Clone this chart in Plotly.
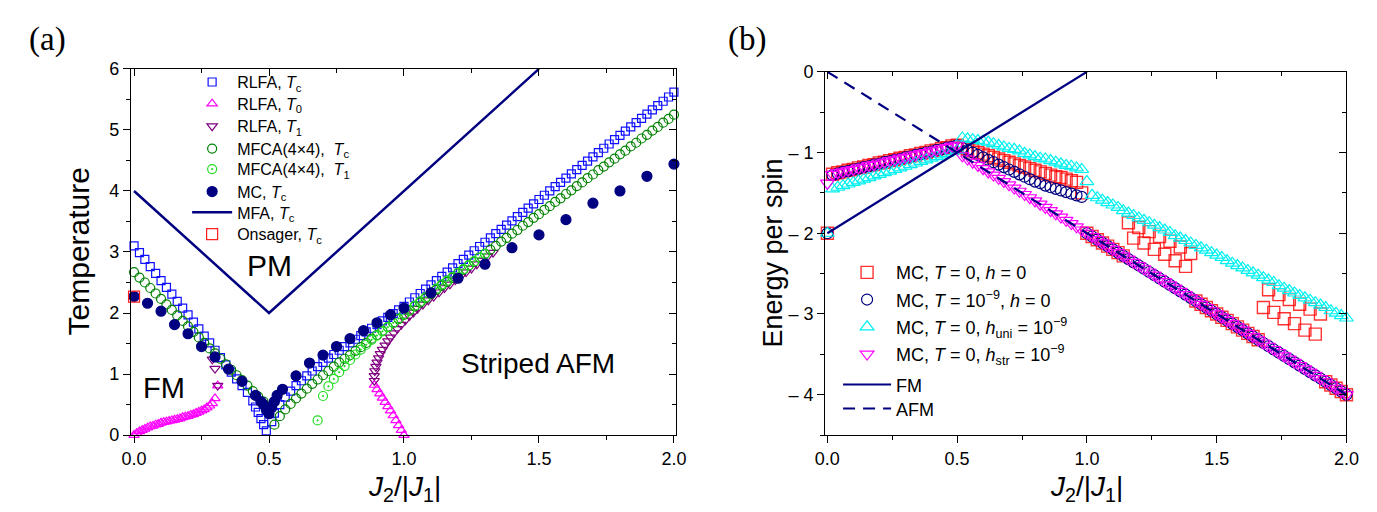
import numpy as np
import plotly.graph_objects as go

# ---------------- Panel (a) data ----------------
rlfa_tc_left_x = [0.00,0.02,0.04,0.06,0.08,0.10,0.12,0.14,0.16,0.18,0.20,0.22,0.24,0.26,0.28,0.30,0.32,0.34,0.36,0.38,0.40,0.42,0.44,0.45,0.46,0.47,0.48,0.49]
rlfa_tc_left_T = [3.10,2.99,2.88,2.76,2.65,2.53,2.42,2.31,2.19,2.08,1.97,1.85,1.74,1.62,1.51,1.39,1.27,1.15,1.03,0.92,0.81,0.70,0.56,0.46,0.37,0.27,0.17,0.07]
rlfa_tc_right_x = [0.51] + list(np.round(np.arange(0.52, 2.001, 0.02), 2))
rlfa_tc_right_T = [0.22,0.36,0.50,0.62,0.72,0.81,0.89,0.97,1.05,1.12,1.19,1.26,1.32,1.39,1.45,1.51,1.57,1.63,1.69,1.75,1.81,1.87,1.93,1.99,2.05,2.11,
                   2.18,2.25,2.32,2.39,2.46,2.53,2.60,2.67,2.74,2.81,2.88,2.95,3.02,3.09,3.16,3.23,3.30,3.37,3.44,3.51,3.58,3.65,3.72,3.79,
                   3.86,3.93,4.00,4.07,4.14,4.21,4.28,4.35,4.42,4.49,4.56,4.63,4.70,4.77,4.84,4.91,4.98,5.05,5.12,5.19,5.26,5.33,5.40,5.47,5.54,5.62]

rlfa_t0_left_x = list(np.round(np.arange(0.0, 0.3101, 0.01), 2))
rlfa_t0_left_T = [0.00,0.03,0.06,0.08,0.10,0.12,0.14,0.15,0.17,0.18,0.20,0.21,0.22,0.23,0.24,0.25,0.26,0.27,0.29,0.30,0.31,0.33,0.34,0.36,0.38,0.40,0.42,0.45,0.48,0.52,0.60,0.81]
rlfa_t0_right_x = list(np.round(np.arange(0.89, 1.0001, 0.01), 2))
rlfa_t0_right_T = [0.82,0.75,0.68,0.61,0.54,0.47,0.40,0.32,0.24,0.16,0.08,0.00]

rlfa_t1_left_x = [0.29, 0.30, 0.31]
rlfa_t1_left_T = [1.24, 1.09, 0.81]
rlfa_t1_right_x = [0.890,0.890,0.892,0.896,0.900,0.906,0.912,0.920,0.930,0.940,0.950,0.962,0.975,0.990,1.005,1.020,1.035,1.050,1.070,1.090,1.110,1.130,1.150,1.170,1.190,1.210,1.230,1.250,1.270,1.290,1.310,1.330]
rlfa_t1_right_T = [0.89,0.97,1.05,1.12,1.19,1.26,1.33,1.40,1.47,1.54,1.60,1.67,1.74,1.81,1.88,1.95,2.01,2.07,2.14,2.21,2.27,2.34,2.41,2.47,2.54,2.60,2.67,2.73,2.80,2.86,2.93,2.99]

mfca_tc_left_x = list(np.round(np.arange(0.0, 0.4801, 0.02), 2))
mfca_tc_left_T = [2.67,2.58,2.50,2.41,2.32,2.23,2.14,2.05,1.96,1.87,1.78,1.69,1.60,1.51,1.42,1.34,1.25,1.16,1.07,0.98,0.90,0.81,0.72,0.63,0.55]
mfca_tc_right_x = list(np.round(np.arange(0.52, 2.001, 0.02), 2))
mfca_tc_right_T = [0.17,0.31,0.42,0.51,0.60,0.68,0.76,0.84,0.91,0.98,1.05,1.12,1.19,1.25,1.31,1.38,1.44,1.51,1.58,1.64,1.71,1.77,1.84,1.90,1.97,
                   2.04,2.11,2.17,2.24,2.31,2.38,2.45,2.51,2.58,2.65,2.71,2.78,2.84,2.91,2.97,
                   3.04,3.10,3.17,3.23,3.30,3.36,3.43,3.49,3.56,3.62,3.69,3.75,3.82,3.88,3.95,4.01,4.08,4.14,4.21,4.27,4.34,4.40,4.47,4.53,4.60,
                   4.66,4.73,4.79,4.86,4.92,4.99,5.05,5.12,5.18,5.25]

mfca_t1_x = [0.68] + list(np.round(np.arange(0.70, 1.3001, 0.02), 2))
mfca_t1_T = [0.24,0.64,0.80,0.92,1.03,1.13,1.23,1.32,1.40,1.48,1.56,1.63,1.70,1.77,1.84,1.91,1.98,2.05,2.12,2.19,2.26,2.33,2.40,2.47,2.53,2.59,2.66,2.72,2.78,2.85,2.91,2.97]

mc_x = [0,0.05,0.1,0.15,0.2,0.25,0.3,0.35,0.4,0.45,0.47,0.48,0.49,0.5,0.51,0.52,0.53,0.55,0.6,0.65,0.7,0.75,0.8,0.85,0.9,0.95,1.0,1.1,1.2,1.3,1.4,1.5,1.6,1.7,1.8,1.9,2.0]
mc_T = [2.27,2.16,2.03,1.81,1.66,1.45,1.28,1.08,0.88,0.65,0.55,0.50,0.42,0.35,0.45,0.55,0.65,0.75,0.97,1.18,1.31,1.45,1.58,1.71,1.84,1.97,2.08,2.33,2.57,2.80,3.07,3.28,3.53,3.80,4.00,4.24,4.44]

mfa_x = [0.0, 0.5, 1.5]
mfa_T = [4.0, 2.0, 6.0]

onsager_x = [0.0]
onsager_T = [2.269]

# ---------------- Panel (b) data ----------------
xb_left = list(np.round(np.arange(0.02, 0.5001, 0.02), 2))
xb_right = list(np.round(np.arange(0.52, 2.0001, 0.02), 2))

red_E0 = -2.00
red_left = [-1.27,-1.25,-1.24,-1.22,-1.21,-1.19,-1.18,-1.16,-1.15,-1.13,-1.12,-1.10,-1.09,-1.07,-1.06,-1.04,-1.03,-1.01,-1.00,-0.98,-0.97,-0.95,-0.94,-0.92,-0.91]
red_right = [-0.94,-0.96,-0.98,-1.00,-1.02,-1.04,-1.06,-1.08,-1.10,-1.12,-1.14,-1.16,-1.18,-1.20,-1.22,-1.24,-1.26,-1.28,-1.30,-1.31,-1.33,-1.35,-1.37,-1.50,
             -2.00,-2.04,-2.08,-2.12,-2.16,-2.20,-2.24,-2.28,
             -1.87,-2.06,-1.93,-2.12,-1.98,-2.20,-2.04,-2.26,-2.10,-2.34,-2.17,-2.41,-2.25,
             -2.84,-2.88,-2.92,-2.96,-3.00,-3.04,-3.08,-3.12,-3.16,-3.20,-3.24,-3.28,-3.32,
             -2.92,-2.70,-2.98,-2.76,-3.06,-2.82,-3.12,-2.88,-3.20,-2.94,-3.25,-3.00,
             -3.84,-3.88,-3.92,-3.96,-4.00]

navy_E0 = -2.00
navy_left = [-1.28,-1.26,-1.24,-1.23,-1.21,-1.20,-1.18,-1.17,-1.15,-1.14,-1.12,-1.11,-1.09,-1.08,-1.06,-1.05,-1.03,-1.02,-1.00,-0.99,-0.97,-0.96,-0.94,-0.93,-0.91]
navy_right = [-0.94,-0.97,-1.00,-1.03,-1.06,-1.09,-1.12,-1.15,-1.18,-1.21,-1.24,-1.27,-1.30,-1.33,-1.36,-1.38,-1.41,-1.43,-1.45,-1.47,-1.49,-1.51,-1.53,-1.55,
              -2.00,-2.04,-2.08,-2.12,-2.16,-2.20,-2.24,-2.28,-2.32,-2.36,-2.40,-2.44,-2.48,-2.52,-2.56,-2.60,-2.64,-2.68,-2.72,-2.76,-2.80,
              -2.84,-2.88,-2.92,-2.96,-3.00,-3.04,-3.08,-3.12,-3.16,-3.20,-3.24,-3.28,-3.32,-3.36,-3.40,-3.44,-3.48,-3.52,-3.56,-3.60,
              -3.64,-3.68,-3.72,-3.76,-3.80,-3.84,-3.88,-3.92,-3.96,-4.00]

cyan_E0 = -2.00
cyan_left = [-1.45,-1.43,-1.41,-1.39,-1.37,-1.35,-1.33,-1.31,-1.29,-1.27,-1.25,-1.23,-1.21,-1.19,-1.17,-1.15,-1.13,-1.11,-1.09,-1.07,-1.05,-1.03,-1.01,-0.99,-0.97]
cyan_right = [-0.82,-0.83,-0.84,-0.85,-0.86,-0.87,-0.89,-0.91,-0.93,-0.95,-0.96,-0.98,-1.01,-1.03,-1.05,-1.07,-1.08,-1.10,-1.12,-1.14,-1.16,-1.17,-1.19,-1.21,-1.36,
              -1.53,-1.56,-1.59,-1.62,-1.65,-1.68,-1.72,-1.75,-1.78,-1.81,-1.84,-1.87,-1.90,-1.93,-1.96,-1.99,-2.03,-2.06,-2.09,-2.12,
              -2.15,-2.18,-2.21,-2.24,-2.27,-2.30,-2.34,-2.37,-2.40,-2.43,-2.46,-2.49,-2.52,-2.55,-2.58,-2.61,-2.65,-2.68,-2.71,-2.74,
              -2.77,-2.80,-2.83,-2.86,-2.89,-2.92,-2.96,-2.99,-3.02,-3.05]

mag_E0 = -1.38
mag_left = [-1.27,-1.25,-1.24,-1.22,-1.21,-1.19,-1.18,-1.16,-1.15,-1.13,-1.12,-1.10,-1.09,-1.07,-1.06,-1.04,-1.03,-1.01,-1.00,-0.98,-0.97,-0.95,-0.94,-0.92,-0.91]
mag_right = [-1.04,-1.08,-1.12,-1.16,-1.20,-1.24,-1.28,-1.32,-1.36,-1.40,-1.44,-1.48,-1.52,-1.56,-1.60,-1.64,-1.68,-1.72,-1.76,-1.80,-1.84,-1.88,-1.92,-1.96,
             -2.00,-2.04,-2.08,-2.12,-2.16,-2.20,-2.24,-2.28,-2.32,-2.36,-2.40,-2.44,-2.48,-2.52,-2.56,-2.60,-2.64,-2.68,-2.72,-2.76,-2.80,
             -2.84,-2.88,-2.92,-2.96,-3.00,-3.04,-3.08,-3.12,-3.16,-3.20,-3.24,-3.28,-3.32,-3.36,-3.40,-3.44,-3.48,-3.52,-3.56,-3.60,
             -3.64,-3.68,-3.72,-3.76,-3.80,-3.84,-3.88,-3.92,-3.96,-4.00]

fm_x = [0.0, 1.0]
fm_E = [-2.0, 0.0]
afm_x = [0.0, 2.0]
afm_E = [0.0, -4.0]

pairs = [(rlfa_tc_left_x, rlfa_tc_left_T), (rlfa_tc_right_x, rlfa_tc_right_T), (rlfa_t0_left_x, rlfa_t0_left_T),
         (rlfa_t0_right_x, rlfa_t0_right_T), (rlfa_t1_right_x, rlfa_t1_right_T), (mfca_tc_left_x, mfca_tc_left_T),
         (mfca_tc_right_x, mfca_tc_right_T), (mfca_t1_x, mfca_t1_T), (mc_x, mc_T),
         (xb_left, red_left), (xb_right, red_right), (xb_right, navy_right), (xb_right, cyan_right), (xb_right, mag_right)]
for a, b in pairs:
    assert len(a) == len(b), (len(a), len(b))

W, H = 1377, 512
def px(x):
    return x / W
def py(y):
    return 1 - y / H

FONT = "Liberation Sans"
SERIF = "Liberation Serif"
fig = go.Figure()

legend_layout = {}
LEG_A_X = 172
LEG_A_W = 40
LEG_A_ROWS = [66.7, 89.3, 112.7, 136, 157.3, 180.7, 202.3, 225]
LEG_B_X = 834
LEG_B_W = 48
LEG_B_ROWS = [265, 293.3, 321.7, 350, 381.7, 406.7]
leg_counter = [0]

def new_legend(xpix, ypix, size, itemw):
    leg_counter[0] += 1
    key = "legend" if leg_counter[0] == 1 else "legend%d" % leg_counter[0]
    legend_layout[key] = dict(x=px(xpix), y=py(ypix), xanchor="left", yanchor="middle",
                              bgcolor="rgba(0,0,0,0)", borderwidth=0, itemwidth=itemw,
                              font=dict(family=FONT, size=size, color="black"))
    return key

def leg_a(i):
    return new_legend(LEG_A_X, LEG_A_ROWS[i], 16, LEG_A_W)

def leg_b(i):
    return new_legend(LEG_B_X, LEG_B_ROWS[i], 18, LEG_B_W)

def mk(x, y, name, symbol, color, size, legend, xa, ya, lw=1.2, fill=None):
    fig.add_trace(go.Scatter(
        x=x, y=y, name=name, mode="markers", xaxis=xa, yaxis=ya, legend=legend,
        showlegend=True, cliponaxis=False,
        marker=dict(symbol=symbol, size=size, color=fill if fill else color,
                    line=dict(color=color, width=lw))))

# ---- panel (a) traces ----
mk(rlfa_tc_left_x + rlfa_tc_right_x, rlfa_tc_left_T + rlfa_tc_right_T, "RLFA, <i>T</i><sub>c</sub>",
   "square-open", "#1010FF", 8, leg_a(0), "x", "y")
mk(rlfa_t0_left_x + rlfa_t0_right_x, rlfa_t0_left_T + rlfa_t0_right_T, "RLFA, <i>T</i><sub>0</sub>",
   "triangle-up-open", "#FF00FF", 9, leg_a(1), "x", "y")
mk(rlfa_t1_left_x + rlfa_t1_right_x, rlfa_t1_left_T + rlfa_t1_right_T, "RLFA, <i>T</i><sub>1</sub>",
   "triangle-down-open", "#800080", 9, leg_a(2), "x", "y")
mk(mfca_tc_left_x + mfca_tc_right_x, mfca_tc_left_T + mfca_tc_right_T, "MFCA(4×4),  <i>T</i><sub>c</sub>",
   "circle-open", "#008000", 9, leg_a(3), "x", "y")
mk(mfca_t1_x, mfca_t1_T, "MFCA(4×4),  <i>T</i><sub>1</sub>",
   "circle-open-dot", "#22DD22", 9, leg_a(4), "x", "y")
mk(mc_x, mc_T, "MC, <i>T</i><sub>c</sub>", "circle", "#000080", 10, leg_a(5), "x", "y", fill="#000080")
fig.add_trace(go.Scatter(x=mfa_x, y=mfa_T, name="MFA, <i>T</i><sub>c</sub>", mode="lines",
                         xaxis="x", yaxis="y", legend=leg_a(6),
                         line=dict(color="#000080", width=2.5)))
mk(onsager_x, onsager_T, "Onsager, <i>T</i><sub>c</sub>", "square-open", "#FF2020", 11, leg_a(7), "x", "y")

# ---- panel (b) traces ----
mk([0.0] + xb_left + xb_right, [red_E0] + red_left + red_right, "MC, <i>T</i> = 0, <i>h</i> = 0",
   "square-open", "rgba(255,0,0,0.8)", 12, leg_b(0), "x2", "y2", lw=1.4)
mk([0.0] + xb_left + xb_right, [navy_E0] + navy_left + navy_right, "MC, <i>T</i> = 10<sup>−9</sup>, <i>h</i> = 0",
   "circle-open", "#000080", 11, leg_b(1), "x2", "y2")
mk([0.0] + xb_left + xb_right, [cyan_E0] + cyan_left + cyan_right, "MC, <i>T</i> = 0, <i>h</i><sub>uni</sub> = 10<sup>−9</sup>",
   "triangle-up-open", "#00F0F0", 12, leg_b(2), "x2", "y2")
mk([0.0] + xb_left + xb_right, [mag_E0] + mag_left + mag_right, "MC, <i>T</i> = 0, <i>h</i><sub>str</sub> = 10<sup>−9</sup>",
   "triangle-down-open", "#FF00FF", 12, leg_b(3), "x2", "y2")
fig.add_trace(go.Scatter(x=fm_x, y=fm_E, name="FM", mode="lines", xaxis="x2", yaxis="y2",
                         legend=leg_b(4), line=dict(color="#000080", width=2.2)))
fig.add_trace(go.Scatter(x=afm_x, y=afm_E, name="AFM", mode="lines", xaxis="x2", yaxis="y2",
                         legend=leg_b(5), line=dict(color="#000080", width=2.2, dash="12px,8px")))

# dummy traces so the inside mirror-tick axes (top/right) are drawn
fig.add_trace(go.Scatter(x=[1.0], y=[1.0], xaxis="x3", yaxis="y3", mode="markers",
                         marker=dict(opacity=0), showlegend=False, hoverinfo="skip"))
fig.add_trace(go.Scatter(x=[1.0], y=[-1.0], xaxis="x4", yaxis="y4", mode="markers",
                         marker=dict(opacity=0), showlegend=False, hoverinfo="skip"))

XA_RANGE = [-0.011, 2.007]
XB_RANGE = [-0.008, 2.0]
dom_xa = [px(115), px(669)]
dom_xb = [px(821), px(1351)]
dom_ya = [py(434), py(53)]
dom_yb = [py(434), py(56)]

tickfont = dict(family=FONT, size=18, color="black")
common = dict(showgrid=False, zeroline=False, showline=True, linecolor="black", linewidth=1.3,
              mirror=True, ticks="outside", ticklen=7, tickwidth=1.3, tickcolor="black", tickfont=tickfont)
inside = dict(ticks="inside", ticklen=7, tickwidth=1.3, tickcolor="black", showticklabels=False,
              showgrid=False, zeroline=False, showline=False)

def minor(dt, where):
    return dict(ticks=where, ticklen=4, tickwidth=1.3, tickcolor="black", dtick=dt, tick0=0)

fig.update_layout(
    width=W, height=H, margin=dict(l=0, r=0, t=0, b=0),
    paper_bgcolor="white", plot_bgcolor="white", showlegend=True,
    xaxis=dict(domain=dom_xa, range=XA_RANGE, anchor="y", tick0=0, dtick=0.5, tickformat=".1f",
               minor=minor(0.25, "outside"), **common),
    yaxis=dict(domain=dom_ya, range=[0, 6], anchor="x", tick0=0, dtick=1,
               minor=minor(0.5, "outside"), **common),
    xaxis2=dict(domain=dom_xb, range=XB_RANGE, anchor="y2", tick0=0, dtick=0.5, tickformat=".1f",
                minor=minor(0.25, "outside"), **common),
    yaxis2=dict(domain=dom_yb, range=[-4.5, 0], anchor="x2", tickvals=[-4, -3, -2, -1, 0],
                ticktext=["– 4", "– 3", "– 2", "– 1", "0"], minor=minor(0.5, "outside"), **common),
    xaxis3=dict(overlaying="x", side="top", anchor="y", range=XA_RANGE, tick0=0, dtick=0.5,
                minor=minor(0.25, "inside"), **inside),
    yaxis3=dict(overlaying="y", side="right", anchor="x", range=[0, 6], tick0=0, dtick=1,
                minor=minor(0.5, "inside"), **inside),
    xaxis4=dict(overlaying="x2", side="top", anchor="y2", range=XB_RANGE, tick0=0, dtick=0.5,
                minor=minor(0.25, "inside"), **inside),
    yaxis4=dict(overlaying="y2", side="right", anchor="x2", range=[-4.5, 0], tick0=0, dtick=1,
                minor=minor(0.5, "inside"), **inside),
    **legend_layout,
)

def ann(text, x, y, size, angle=0, family=FONT):
    fig.add_annotation(text=text, x=px(x), y=py(y), xref="paper", yref="paper", showarrow=False,
                       textangle=angle, font=dict(family=family, size=size, color="black"),
                       xanchor="center", yanchor="middle")

ann("Temperature", 62, 243, 30, -90)
ann("Energy per spin", 768, 245, 27, -90)
ann("<i>J</i><sub>2</sub>/|<i>J</i><sub>1</sub>|", 393, 490, 28)
ann("<i>J</i><sub>2</sub>/|<i>J</i><sub>1</sub>|", 1087, 490, 28)
ann("PM", 256, 258, 30)
ann("FM", 148, 385, 29)
ann("Striped AFM", 529, 360, 28)
ann("(a)", 30, 22, 33, family=SERIF)
ann("(b)", 741, 22, 33, family=SERIF)

fig.write_html("out.html")
